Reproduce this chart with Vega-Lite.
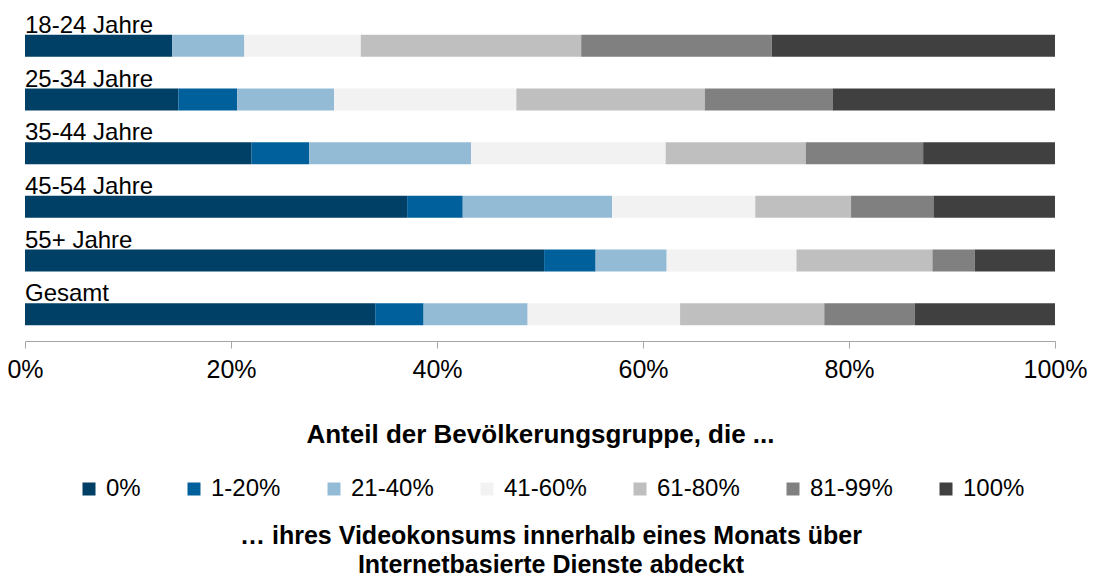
{
  "$schema": "https://vega.github.io/schema/vega-lite/v6.json",
  "autosize": {"type": "none"},
  "width": 1030,
  "height": 322,
  "padding": {"left": 25, "top": 19, "right": 47, "bottom": 238},
  "background": "#ffffff",
  "config": {
    "view": {"stroke": null},
    "font": "Liberation Sans"
  },
  "data": {
    "values": [
      {"group": "18-24 Jahre", "cat": "0%", "idx": 0, "value": 14.3},
      {"group": "18-24 Jahre", "cat": "1-20%", "idx": 1, "value": 0},
      {"group": "18-24 Jahre", "cat": "21-40%", "idx": 2, "value": 7.0},
      {"group": "18-24 Jahre", "cat": "41-60%", "idx": 3, "value": 11.3},
      {"group": "18-24 Jahre", "cat": "61-80%", "idx": 4, "value": 21.4},
      {"group": "18-24 Jahre", "cat": "81-99%", "idx": 5, "value": 18.5},
      {"group": "18-24 Jahre", "cat": "100%", "idx": 6, "value": 27.5},
      {"group": "25-34 Jahre", "cat": "0%", "idx": 0, "value": 14.9},
      {"group": "25-34 Jahre", "cat": "1-20%", "idx": 1, "value": 5.7},
      {"group": "25-34 Jahre", "cat": "21-40%", "idx": 2, "value": 9.4},
      {"group": "25-34 Jahre", "cat": "41-60%", "idx": 3, "value": 17.7},
      {"group": "25-34 Jahre", "cat": "61-80%", "idx": 4, "value": 18.3},
      {"group": "25-34 Jahre", "cat": "81-99%", "idx": 5, "value": 12.4},
      {"group": "25-34 Jahre", "cat": "100%", "idx": 6, "value": 21.6},
      {"group": "35-44 Jahre", "cat": "0%", "idx": 0, "value": 22.0},
      {"group": "35-44 Jahre", "cat": "1-20%", "idx": 1, "value": 5.6},
      {"group": "35-44 Jahre", "cat": "21-40%", "idx": 2, "value": 15.7},
      {"group": "35-44 Jahre", "cat": "41-60%", "idx": 3, "value": 18.9},
      {"group": "35-44 Jahre", "cat": "61-80%", "idx": 4, "value": 13.6},
      {"group": "35-44 Jahre", "cat": "81-99%", "idx": 5, "value": 11.4},
      {"group": "35-44 Jahre", "cat": "100%", "idx": 6, "value": 12.8},
      {"group": "45-54 Jahre", "cat": "0%", "idx": 0, "value": 37.1},
      {"group": "45-54 Jahre", "cat": "1-20%", "idx": 1, "value": 5.4},
      {"group": "45-54 Jahre", "cat": "21-40%", "idx": 2, "value": 14.5},
      {"group": "45-54 Jahre", "cat": "41-60%", "idx": 3, "value": 13.9},
      {"group": "45-54 Jahre", "cat": "61-80%", "idx": 4, "value": 9.3},
      {"group": "45-54 Jahre", "cat": "81-99%", "idx": 5, "value": 8.0},
      {"group": "45-54 Jahre", "cat": "100%", "idx": 6, "value": 11.8},
      {"group": "55+ Jahre", "cat": "0%", "idx": 0, "value": 50.4},
      {"group": "55+ Jahre", "cat": "1-20%", "idx": 1, "value": 5.0},
      {"group": "55+ Jahre", "cat": "21-40%", "idx": 2, "value": 6.9},
      {"group": "55+ Jahre", "cat": "41-60%", "idx": 3, "value": 12.6},
      {"group": "55+ Jahre", "cat": "61-80%", "idx": 4, "value": 13.2},
      {"group": "55+ Jahre", "cat": "81-99%", "idx": 5, "value": 4.1},
      {"group": "55+ Jahre", "cat": "100%", "idx": 6, "value": 7.8},
      {"group": "Gesamt", "cat": "0%", "idx": 0, "value": 34.0},
      {"group": "Gesamt", "cat": "1-20%", "idx": 1, "value": 4.7},
      {"group": "Gesamt", "cat": "21-40%", "idx": 2, "value": 10.1},
      {"group": "Gesamt", "cat": "41-60%", "idx": 3, "value": 14.8},
      {"group": "Gesamt", "cat": "61-80%", "idx": 4, "value": 14.0},
      {"group": "Gesamt", "cat": "81-99%", "idx": 5, "value": 8.8},
      {"group": "Gesamt", "cat": "100%", "idx": 6, "value": 13.6}
    ]
  },
  "layer": [
    {
      "mark": {"type": "bar", "height": 22},
      "encoding": {
        "y": {
          "field": "group", "type": "nominal",
          "sort": ["18-24 Jahre", "25-34 Jahre", "35-44 Jahre", "45-54 Jahre", "55+ Jahre", "Gesamt"],
          "scale": {"paddingInner": 0, "paddingOuter": 0},
          "axis": null
        },
        "x": {
          "field": "value", "type": "quantitative", "stack": "zero",
          "scale": {"domain": [0, 100], "nice": false},
          "axis": {
            "values": [0, 20, 40, 60, 80, 100],
            "labelExpr": "datum.value + '%'",
            "grid": false,
            "domainColor": "#a6a6a6",
            "tickColor": "#a6a6a6",
            "tickSize": 7,
            "labelFontSize": 25,
            "labelColor": "#000000",
            "labelPadding": 9,
            "labelFlush": false,
            "title": "Anteil der Bevölkerungsgruppe, die ...",
            "titleFontSize": 26,
            "titleFontWeight": "bold",
            "titleColor": "#000000",
            "titlePadding": 39
          }
        },
        "order": {"field": "idx", "type": "quantitative"},
        "color": {
          "field": "cat", "type": "nominal",
          "scale": {
            "domain": ["0%", "1-20%", "21-40%", "41-60%", "61-80%", "81-99%", "100%"],
            "range": ["#003f66", "#00609c", "#94bbd6", "#f2f2f2", "#bfbfbf", "#808080", "#404040"]
          },
          "legend": {
            "orient": "none",
            "legendX": 52,
            "legendY": 458,
            "direction": "horizontal",
            "title": ["… ihres Videokonsums innerhalb eines Monats über", "Internetbasierte Dienste abdeckt"],
            "titleOrient": "bottom",
            "titleAnchor": "middle",
            "titleAlign": "center",
            "titleFontSize": 25,
            "titleFontWeight": "bold",
            "titleColor": "#000000",
            "titleLineHeight": 29,
            "titlePadding": 23,
            "titleLimit": 2000,
            "symbolType": "square",
            "symbolSize": 169,
            "symbolStrokeWidth": 0,
            "symbolOpacity": 1,
            "labelFontSize": 24,
            "labelColor": "#000000",
            "labelOffset": 5,
            "labelLimit": 400,
            "columnPadding": 41
          }
        }
      }
    },
    {
      "transform": [{"filter": "datum.idx == 0"}],
      "mark": {"type": "text", "align": "left", "baseline": "alphabetic", "dy": -13, "fontSize": 24, "color": "#000000"},
      "encoding": {
        "y": {"field": "group", "type": "nominal", "sort": ["18-24 Jahre", "25-34 Jahre", "35-44 Jahre", "45-54 Jahre", "55+ Jahre", "Gesamt"]},
        "x": {"datum": 0, "type": "quantitative"},
        "text": {"field": "group"}
      }
    }
  ]
}
